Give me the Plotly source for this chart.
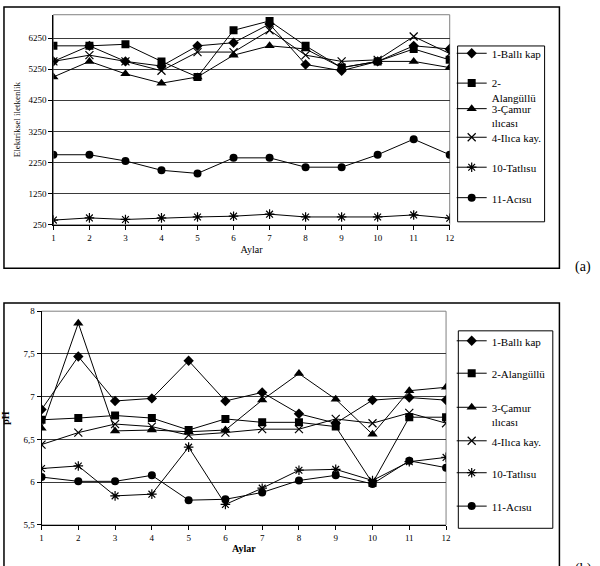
import plotly.graph_objects as go

W, H = 600, 566

months = list(range(1, 13))
month_labels = [str(m) for m in months]

names_a = ["1-Ballı kap", "2-<br>Alangüllü", "3-Çamur<br>ılıcası", "4-Ilıca kay.", "10-Tatlısu", "11-Acısu"]
names_b = ["1-Ballı kap", "2-Alangüllü", "3-Çamur<br>ılıcası", "4-Ilıca kay.", "10-Tatlısu", "11-Acısu"]

# (a) Elektriksel iletkenlik
ec_balli = [5500, 6000, 5500, 5350, 6000, 6100, 6700, 5400, 5200, 5500, 6000, 5900]
ec_alangullu = [6000, 6000, 6050, 5500, 5000, 6500, 6800, 6000, 5300, 5500, 5900, 5550]
ec_camur = [5000, 5500, 5100, 4800, 5000, 5700, 6000, 5900, 5300, 5500, 5500, 5300]
ec_ilica = [5500, 5700, 5500, 5200, 5800, 5800, 6500, 5700, 5500, 5550, 6300, 5750]
ec_tatlisu = [400, 470, 420, 470, 500, 525, 590, 500, 500, 500, 565, 460]
ec_acisu = [2500, 2500, 2300, 2000, 1900, 2400, 2400, 2100, 2100, 2500, 3000, 2500]
ec_ticks = [250, 1250, 2250, 3250, 4250, 5250, 6250]

# (b) pH
ph_balli = [6.85, 7.47, 6.95, 6.98, 7.42, 6.95, 7.05, 6.80, 6.69, 6.96, 6.99, 6.96]
ph_alangullu = [6.73, 6.75, 6.78, 6.75, 6.61, 6.74, 6.70, 6.70, 6.65, 5.99, 6.76, 6.76]
ph_camur = [6.63, 7.86, 6.60, 6.61, 6.59, 6.61, 6.96, 7.27, 6.97, 6.56, 7.07, 7.11]
ph_ilica = [6.44, 6.58, 6.68, 6.65, 6.55, 6.58, 6.62, 6.62, 6.74, 6.69, 6.81, 6.69]
ph_tatlisu = [6.16, 6.19, 5.84, 5.86, 6.41, 5.74, 5.93, 6.14, 6.15, 6.02, 6.24, 6.29]
ph_acisu = [6.06, 6.01, 6.01, 6.08, 5.79, 5.80, 5.88, 6.02, 6.08, 5.98, 6.25, 6.17]
ph_ticks = [5.5, 6, 6.5, 7, 7.5, 8]
ph_ticktext = ["5,5", "6", "6,5", "7", "7,5", "8"]

symbols = [
    dict(symbol="diamond", size=8, color="black"),
    dict(symbol="square", size=8, color="black"),
    dict(symbol="triangle-up", size=9, color="black"),
    dict(symbol="x-thin-open", size=8, color="black", line=dict(color="black", width=1.2)),
    dict(symbol="asterisk-open", size=8, color="black", line=dict(color="black", width=1.2)),
    dict(symbol="circle", size=8, color="black"),
]

FONT = "Liberation Serif, Times New Roman, serif"

def px(x):
    return x / W

def py(y):
    return 1 - y / H

fig = go.Figure()

series_a = [ec_balli, ec_alangullu, ec_camur, ec_ilica, ec_tatlisu, ec_acisu]
series_b = [ph_balli, ph_alangullu, ph_camur, ph_ilica, ph_tatlisu, ph_acisu]

# legend positions (pixel centre of first text line)
leg_a_y = [50, 80, 106, 135.5, 166, 197]
leg_b_y = [342.7, 375.7, 410, 444.5, 477, 511]
leg_a_x = 455
leg_b_x = 455
line_h = 14

layout_legends = {}
for i, (vals, name) in enumerate(zip(series_a, names_a)):
    lg = "legend" if i == 0 else f"legend{i + 1}"
    fig.add_trace(go.Scatter(x=months, y=vals, name=name, mode="lines+markers",
                             line=dict(color="black", width=1), marker=symbols[i],
                             xaxis="x", yaxis="y", legend=lg))
    nlines = name.count("<br>") + 1
    yc = leg_a_y[i] + (nlines - 1) * line_h / 2
    layout_legends[lg] = dict(x=px(leg_a_x), y=py(yc), xanchor="left", yanchor="middle",
                              bgcolor="rgba(0,0,0,0)", borderwidth=0, valign="top",
                              font=dict(family=FONT, size=11, color="black"))

for i, (vals, name) in enumerate(zip(series_b, names_b)):
    lg = f"legend{i + 7}"
    fig.add_trace(go.Scatter(x=months, y=vals, name=name, mode="lines+markers",
                             line=dict(color="black", width=1), marker=symbols[i],
                             xaxis="x2", yaxis="y2", legend=lg))
    nlines = name.count("<br>") + 1
    yc = leg_b_y[i] + (nlines - 1) * line_h / 2
    layout_legends[lg] = dict(x=px(leg_b_x), y=py(yc), xanchor="left", yanchor="middle",
                              bgcolor="rgba(0,0,0,0)", borderwidth=0, valign="top",
                              font=dict(family=FONT, size=11, color="black"))

# plot area geometry (pixels)
a_left, a_right, a_top, a_bottom = 52, 453, 9.9, 223.7
b_left, b_right, b_top, b_bottom = 40, 449.3, 311.7, 529.3

tickfont = dict(family=FONT, size=9, color="black")

fig.update_layout(
    width=W, height=H,
    margin=dict(l=0, r=0, t=0, b=0),
    paper_bgcolor="white", plot_bgcolor="rgba(0,0,0,0)",
    showlegend=True,
    xaxis=dict(domain=[px(a_left), px(a_right)], range=[1, 12], tickvals=months, ticktext=month_labels,
               ticks="outside", ticklen=4, tickcolor="black", showline=True, linecolor="black",
               linewidth=1, showgrid=False, zeroline=False, tickfont=tickfont, anchor="y",
               title=dict(text="Aylar", font=dict(family=FONT, size=10, color="black"), standoff=4)),
    yaxis=dict(domain=[py(a_bottom), py(a_top)], range=[250, 7000], tickvals=ec_ticks,
               ticks="outside", ticklen=4, tickcolor="black", showline=True, linecolor="black",
               linewidth=1, showgrid=True, gridcolor="#3a3a3a", gridwidth=1, zeroline=False,
               tickfont=tickfont, anchor="x",
               title=dict(text="Elektriksel iletkenlik", font=dict(family=FONT, size=9, color="black"),
                          standoff=6)),
    xaxis2=dict(domain=[px(b_left), px(b_right)], range=[1, 12], tickvals=months, ticktext=month_labels,
                ticks="outside", ticklen=4, tickcolor="black", showline=True, linecolor="black",
                linewidth=1, showgrid=False, zeroline=False, tickfont=tickfont, anchor="y2",
                title=dict(text="<b>Aylar</b>", font=dict(family=FONT, size=10, color="black"), standoff=3)),
    yaxis2=dict(domain=[py(b_bottom), py(b_top)], range=[5.5, 8], tickvals=ph_ticks, ticktext=ph_ticktext,
                ticks="outside", ticklen=4, tickcolor="black", showline=True, linecolor="black",
                linewidth=1, showgrid=True, gridcolor="#3a3a3a", gridwidth=1, zeroline=False,
                tickfont=tickfont, anchor="x2",
                title=dict(text="<b>pH</b>", font=dict(family=FONT, size=10, color="black"), standoff=12)),
    **layout_legends,
)

shapes = []
# outer chart frames
shapes.append(dict(type="rect", xref="paper", yref="paper", x0=px(2), x1=px(564), y0=py(268), y1=py(2),
                   line=dict(color="black", width=1.5), layer="below"))
shapes.append(dict(type="rect", xref="paper", yref="paper", x0=px(2), x1=px(564), y0=py(572), y1=py(303.3),
                   line=dict(color="black", width=1.5), layer="below"))
# plot area borders
shapes.append(dict(type="rect", xref="paper", yref="paper", x0=px(a_left), x1=px(a_right), y0=py(a_bottom),
                   y1=py(a_top), line=dict(color="#808080", width=1), layer="below"))
shapes.append(dict(type="rect", xref="paper", yref="paper", x0=px(b_left), x1=px(b_right), y0=py(b_bottom),
                   y1=py(b_top), line=dict(color="#808080", width=1), layer="below"))
# legend boxes
shapes.append(dict(type="rect", xref="paper", yref="paper", x0=px(461), x1=px(549), y0=py(220.7), y1=py(41.7),
                   line=dict(color="black", width=1), layer="below"))
shapes.append(dict(type="rect", xref="paper", yref="paper", x0=px(461.7), x1=px(557.3), y0=py(532.7), y1=py(331.7),
                   line=dict(color="black", width=1), layer="below"))
fig.update_layout(shapes=shapes)

fig.add_annotation(text="(a)", xref="paper", yref="paper", x=px(588), y=py(267), xanchor="center",
                   yanchor="middle", showarrow=False, font=dict(family=FONT, size=14, color="black"))
fig.add_annotation(text="(b)", xref="paper", yref="paper", x=px(588), y=py(574), xanchor="center",
                   yanchor="middle", showarrow=False, font=dict(family=FONT, size=14, color="black"))

fig.write_html("out.html", config={"displayModeBar": False},
               post_script="document.body.style.margin='0';document.body.style.overflow='hidden';")
